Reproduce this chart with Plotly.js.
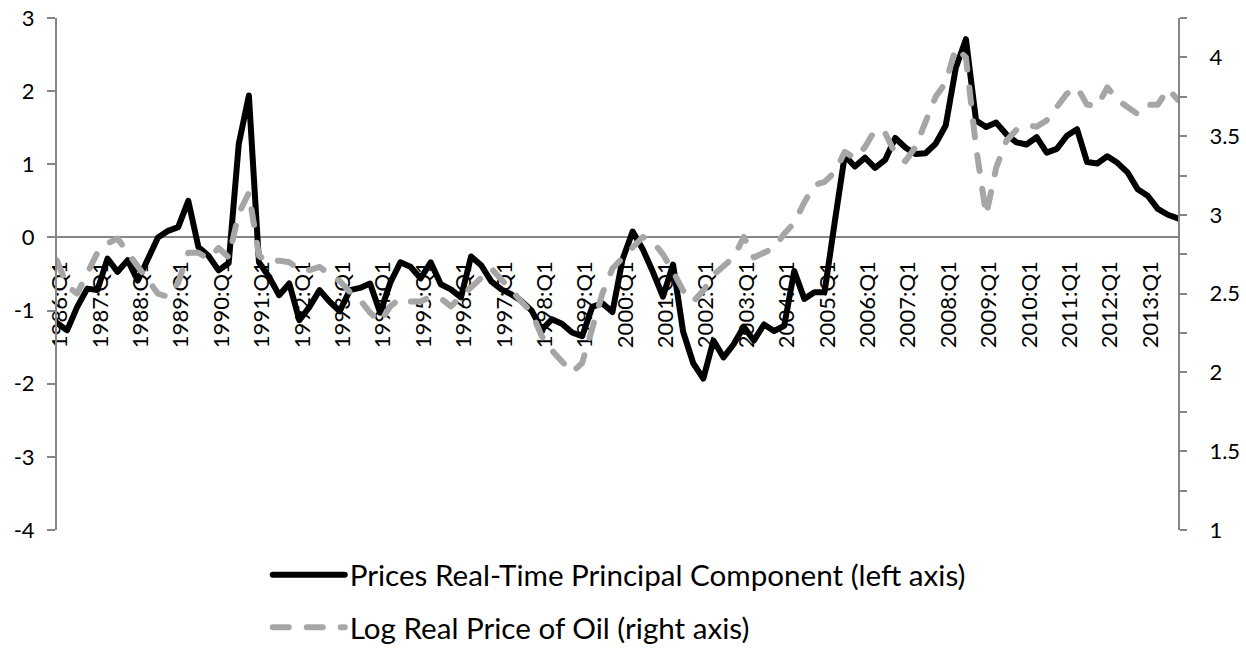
<!DOCTYPE html>
<html>
<head>
<meta charset="utf-8">
<script src="https://cdn.plot.ly/plotly-3.0.1.min.js"></script>
<style>
  html, body { margin: 0; padding: 0; background: #ffffff; }
  #chart { width: 1246px; height: 648px; }
  .scatterlayer .js-line, .legend .js-line { stroke-linecap: round; stroke-linejoin: round; }
</style>
</head>
<body>
<div id="chart"></div>
<script>
// ---- Categories: quarters 1986:Q1 .. 2013:Q4 ----
const START_YEAR = 1986;
const END_YEAR = 2013;
const QUARTERS = [];
for (let y = START_YEAR; y <= END_YEAR; y++) {
  for (let q = 1; q <= 4; q++) QUARTERS.push(y + ':Q' + q);
}

// ---- Series ----
// Prices Real-Time Principal Component (left axis)
const PRICES_PC = [
  -1.17, -1.27, -0.95, -0.70, -0.72, -0.29, -0.47, -0.31,
  -0.59, -0.27,  0.00,  0.09,  0.14,  0.50, -0.13, -0.25,
  -0.45, -0.35,  1.28,  1.94, -0.34, -0.54, -0.79, -0.63,
  -1.13, -0.95, -0.72, -0.88, -1.01, -0.72, -0.69, -0.63,
  -1.03, -0.62, -0.34, -0.40, -0.56, -0.34, -0.64, -0.71,
  -0.82, -0.26, -0.38, -0.60, -0.71, -0.78, -0.87, -1.00,
  -1.26, -1.12, -1.18, -1.30, -1.35, -0.95, -0.90, -1.02,
  -0.30,  0.08, -0.16, -0.47, -0.81, -0.37, -1.29, -1.72,
  -1.93, -1.41, -1.64, -1.46, -1.22, -1.41, -1.19, -1.28,
  -1.21, -0.46, -0.84, -0.75, -0.75,  0.20,  1.12,  0.97,
   1.09,  0.95,  1.06,  1.36,  1.23,  1.14,  1.15,  1.28,
   1.53,  2.32,  2.71,  1.60,  1.51,  1.57,  1.41,  1.30,
   1.27,  1.37,  1.16,  1.21,  1.39,  1.48,  1.03,  1.01,
   1.11,  1.02,  0.89,  0.66,  0.57,  0.39,  0.31,  0.26
];
// Log Real Price of Oil (right axis)
const LOG_OIL = [
  2.71, 2.55, 2.50, 2.63, 2.76, 2.82, 2.85, 2.76,
  2.67, 2.59, 2.50, 2.48, 2.57, 2.76, 2.76, 2.72,
  2.79, 2.73, 3.01, 3.14, 2.74, 2.70, 2.71, 2.70,
  2.65, 2.65, 2.67, 2.62, 2.58, 2.51, 2.46, 2.38,
  2.32, 2.42, 2.47, 2.45, 2.45, 2.48, 2.47, 2.42,
  2.48, 2.54, 2.60, 2.66, 2.59, 2.52, 2.46, 2.38,
  2.23, 2.14, 2.07, 2.00, 2.06, 2.27, 2.50, 2.66,
  2.73, 2.79, 2.86, 2.83, 2.75, 2.64, 2.52, 2.45,
  2.52, 2.62, 2.68, 2.73, 2.86, 2.73, 2.76, 2.79,
  2.88, 2.95, 3.08, 3.19, 3.21, 3.27, 3.40, 3.36,
  3.43, 3.54, 3.52, 3.39, 3.34, 3.43, 3.59, 3.75,
  3.84, 4.06, 4.00, 3.43, 3.00, 3.30, 3.47, 3.54,
  3.57, 3.56, 3.60, 3.68, 3.77, 3.81, 3.70, 3.69,
  3.81, 3.73, 3.69, 3.64, 3.70, 3.70, 3.80, 3.73
];

// ---- Tick labels ----
const X_TICKS = QUARTERS.filter(q => q.endsWith(':Q1'));
const LEFT_TICKS = [-4, -3, -2, -1, 0, 1, 2, 3];
const LEFT_LABELS = ['-4', '-3', '-2', '-1', '0', '1', '2', '3'];
const RIGHT_TICKS = [1, 1.5, 2, 2.5, 3, 3.5, 4];
const RIGHT_LABELS = ['1', '1.5', '2', '2.5', '3', '3.5', '4'];

const NAMES = ['Prices Real-Time Principal Component (left axis)', 'Log Real Price of Oil (right axis)'];

const FONT = 'Lato, "Open Sans", sans-serif';
const AXIS_GREY = '#868686';

const traces = [
  {
    x: QUARTERS, y: PRICES_PC, name: NAMES[0], type: 'scatter', mode: 'lines',
    yaxis: 'y', legendgroup: 'pc', line: { color: '#000000', width: 6 }
  },
  {
    x: QUARTERS, y: LOG_OIL, name: NAMES[1], type: 'scatter', mode: 'lines',
    yaxis: 'y2', legendgroup: 'oil', line: { color: '#A6A6A6', width: 6, dash: '16px,18px' }
  }
];

const layout = {
  width: 1246, height: 648,
  margin: { l: 57, r: 68, t: 18, b: 118, pad: 0, autoexpand: false },
  paper_bgcolor: '#ffffff', plot_bgcolor: '#ffffff',
  font: { family: FONT, size: 22, color: '#000000' },
  showlegend: true,
  legend: {
    x: 0.188, xanchor: 'left', y: -0.037, yanchor: 'top',
    orientation: 'v', bgcolor: 'rgba(0,0,0,0)',
    font: { family: FONT, size: 29.6, color: '#000000' },
    itemwidth: 72, traceorder: 'grouped', tracegroupgap: 11
  },
  xaxis: {
    type: 'category', anchor: 'free', position: 4 / 7,
    tickmode: 'array', tickvals: X_TICKS, ticktext: X_TICKS,
    tickangle: -90, ticks: '', showgrid: false, zeroline: false,
    showline: true, linecolor: AXIS_GREY, linewidth: 2,
    ticklabelstandoff: 14, ticklabelshift: 3, layer: 'below traces',
    tickfont: { family: FONT, size: 22, color: '#000000' }
  },
  yaxis: {
    range: [-4, 3], tickmode: 'array', tickvals: LEFT_TICKS, ticktext: LEFT_LABELS,
    ticks: 'outside', ticklen: 8, tickwidth: 2, tickcolor: AXIS_GREY,
    showline: true, linecolor: AXIS_GREY, linewidth: 2,
    showgrid: false, zeroline: false, ticklabelstandoff: 8,
    tickfont: { family: FONT, size: 22, color: '#000000' }
  },
  yaxis2: {
    range: [1, 4.25], overlaying: 'y', side: 'right',
    tickmode: 'array', tickvals: RIGHT_TICKS, ticktext: RIGHT_LABELS,
    ticks: 'outside', ticklen: 7, tickwidth: 2, tickcolor: AXIS_GREY,
    minor: { dtick: 0.25, tick0: 1, ticks: 'outside', ticklen: 7, tickwidth: 2, tickcolor: AXIS_GREY, showgrid: false },
    showline: true, linecolor: AXIS_GREY, linewidth: 2,
    showgrid: false, zeroline: false, ticklabelstandoff: 18,
    tickfont: { family: FONT, size: 22, color: '#000000' }
  }
};

Plotly.newPlot('chart', traces, layout, { displayModeBar: false, responsive: false });
</script>
</body>
</html>
